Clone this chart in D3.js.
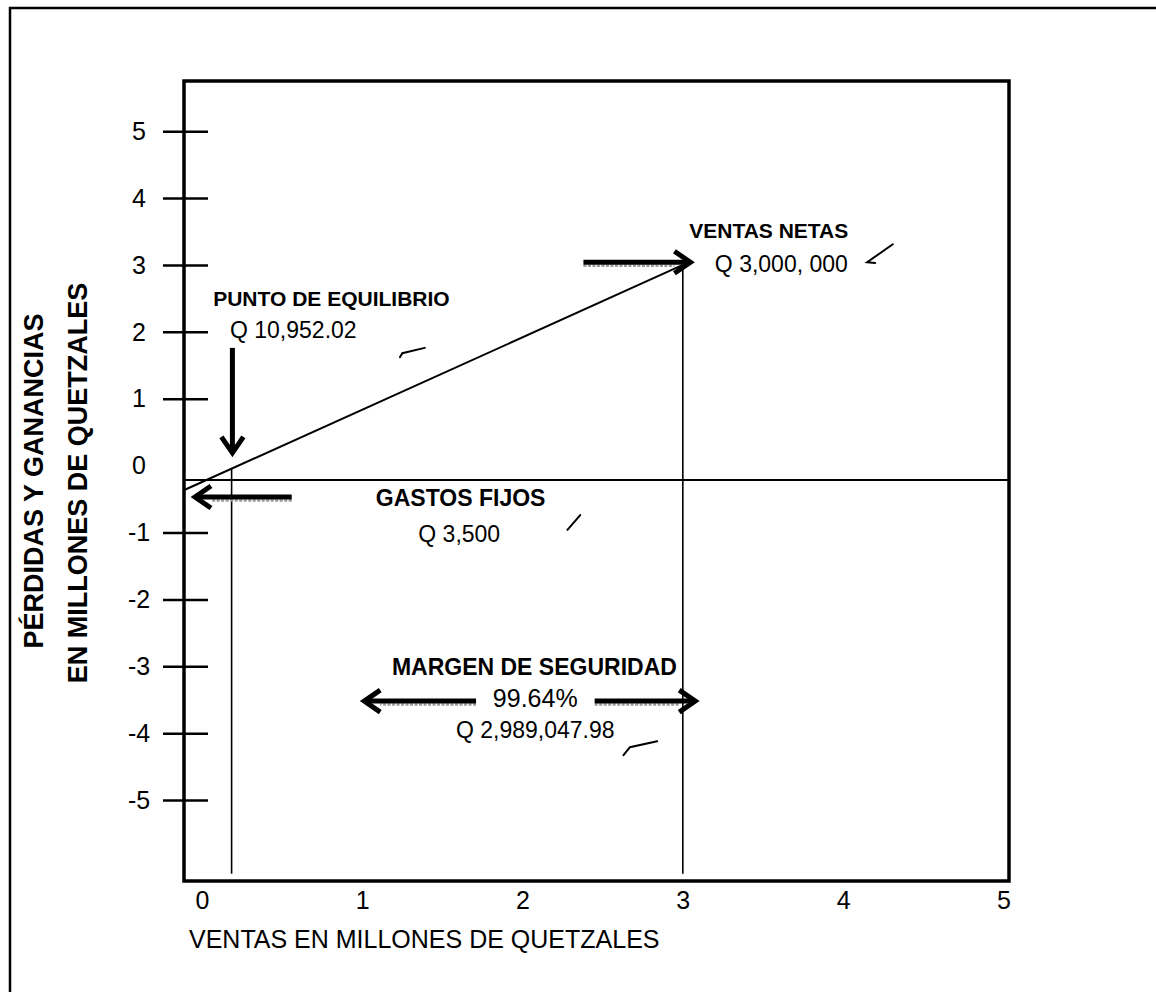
<!DOCTYPE html>
<html>
<head>
<meta charset="utf-8">
<script src="https://cdn.jsdelivr.net/npm/d3@7"></script>
<style>
	body { margin: 0; background: #fff; }
	text { font-family: "Liberation Sans", Arial, sans-serif; fill: #000; }
</style>
</head>
<body>
<script>

// valores del grafico (millones de quetzales)
var ventasTicks = [0, 1, 2, 3, 4, 5];
var gananciasTicks = [5, 4, 3, 2, 1, 0, -1, -2, -3, -4, -5];

var lineaVentas = [[-0.11, -0.365], [3, 3]];
var nivelCero = -0.215;
var equilibrioX = 0.185;
var ventasNetasX = 3;
var baseVerticales = -6.1;

// flechas: desde -> hasta
var flechas = [
	{ de: [0.19, 1.76], a: [0.19, 0.16] },
	{ de: [0.56, -0.47], a: [-0.056, -0.47] },
	{ de: [2.38, 3.04], a: [3.06, 3.04] },
	{ de: [1.71, -3.52], a: [1.0, -3.52] },
	{ de: [2.45, -3.52], a: [3.09, -3.52] }
];

var textos = [
	{ t: "PUNTO DE EQUILIBRIO", x: 0.07, y: 2.39, bold: true, size: 21 },
	{ t: "Q 10,952.02", x: 0.175, y: 1.91, bold: false, size: 23 },
	{ t: "VENTAS NETAS", x: 3.04, y: 3.40, bold: true, size: 21 },
	{ t: "Q 3,000, 000", x: 3.20, y: 2.89, bold: false, size: 23 },
	{ t: "GASTOS FIJOS", x: 1.085, y: -0.60, bold: true, size: 23 },
	{ t: "Q 3,500", x: 1.35, y: -1.14, bold: false, size: 23 },
	{ t: "MARGEN DE SEGURIDAD", x: 1.185, y: -3.13, bold: true, size: 23 },
	{ t: "99.64%", x: 1.815, y: -3.61, bold: false, size: 25 },
	{ t: "Q 2,989,047.98", x: 1.585, y: -4.07, bold: false, size: 23 }
];

// marcas hechas a mano sobre el papel
var marcas = [
	[[4.31, 3.31], [4.15, 3.04], [4.20, 3.03]],
	[[1.39, 1.76], [1.25, 1.68], [1.235, 1.62]],
	[[2.36, -0.74], [2.28, -0.96]],
	[[2.84, -4.12], [2.67, -4.21], [2.63, -4.33]]
];

var margin = { left: 184, top: 81 };
var w = 825, h = 800;

var svg = d3.select("body").append("svg")
	.attr("width", 1156)
	.attr("height", 992);

// marco exterior de la hoja
svg.append("path")
	.attr("d", "M10,992 L10,8 L1156,8")
	.attr("fill", "none")
	.attr("stroke", "#000")
	.attr("stroke-width", 2.5);

var g = svg.append("g")
	.attr("transform", "translate(" + margin.left + "," + margin.top + ")");

var x = d3.scaleLinear().domain([-0.112, 5.035]).range([0, w]);
var y = d3.scaleLinear().domain([-6.21, 5.75]).range([h, 0]);

// linea horizontal (cero)
g.append("line")
	.attr("x1", 0).attr("x2", w)
	.attr("y1", y(nivelCero)).attr("y2", y(nivelCero))
	.attr("stroke", "#000").attr("stroke-width", 2);

// linea de ventas
var line = d3.line().x(function(d){ return x(d[0]); }).y(function(d){ return y(d[1]); });
g.append("path")
	.attr("d", line(lineaVentas))
	.attr("fill", "none")
	.attr("stroke", "#000")
	.attr("stroke-width", 2);

// verticales: punto de equilibrio y ventas netas
var t = (equilibrioX - lineaVentas[0][0]) / (lineaVentas[1][0] - lineaVentas[0][0]);
var yEquilibrio = d3.interpolateNumber(lineaVentas[0][1], lineaVentas[1][1])(t);

g.append("line")
	.attr("x1", x(equilibrioX)).attr("x2", x(equilibrioX))
	.attr("y1", y(yEquilibrio)).attr("y2", y(baseVerticales))
	.attr("stroke", "#000").attr("stroke-width", 1.6);

g.append("line")
	.attr("x1", x(ventasNetasX)).attr("x2", x(ventasNetasX))
	.attr("y1", y(lineaVentas[1][1])).attr("y2", y(baseVerticales))
	.attr("stroke", "#000").attr("stroke-width", 1.6);

// caja del grafico
g.append("rect")
	.attr("width", w).attr("height", h)
	.attr("fill", "none")
	.attr("stroke", "#000")
	.attr("stroke-width", 3.5);

// eje Y
var ejeY = g.append("g")
	.call(d3.axisLeft(y).tickValues(gananciasTicks).tickSize(21).tickFormat(function(d){ return String(d); }));
ejeY.select(".domain").remove();
ejeY.selectAll(".tick line")
	.attr("x1", 24).attr("x2", -21)
	.attr("stroke", "#000")
	.attr("stroke-width", 2.5)
	.style("display", function(d){ return d === 0 ? "none" : null; });
ejeY.selectAll(".tick text")
	.attr("x", -45)
	.attr("dy", "0.33em")
	.attr("text-anchor", "middle")
	.style("font-size", "25px")
	.style("font-family", "'Liberation Sans', Arial, sans-serif");

// eje X (solo etiquetas)
var ejeX = g.append("g")
	.attr("transform", "translate(0," + h + ")")
	.call(d3.axisBottom(x).tickValues(ventasTicks).tickSize(0).tickPadding(10).tickFormat(function(d){ return String(d); }));
ejeX.select(".domain").remove();
ejeX.selectAll(".tick text")
	.style("font-size", "25px")
	.style("font-family", "'Liberation Sans', Arial, sans-serif");

// titulos de los ejes
svg.append("text")
	.attr("x", 189).attr("y", 948)
	.style("font-size", "25px")
	.text("VENTAS EN MILLONES DE QUETZALES");

svg.append("text")
	.attr("transform", "translate(43,481) rotate(-90)")
	.attr("text-anchor", "middle")
	.style("font-size", "27px")
	.style("font-weight", "bold")
	.text("PÉRDIDAS Y GANANCIAS");

svg.append("text")
	.attr("transform", "translate(87,483) rotate(-90)")
	.attr("text-anchor", "middle")
	.style("font-size", "27px")
	.style("font-weight", "bold")
	.text("EN MILLONES DE QUETZALES");

// flechas gruesas
function flecha(f){
	var x1 = x(f.de[0]), y1 = y(f.de[1]), x2 = x(f.a[0]), y2 = y(f.a[1]);
	var ang = Math.atan2(y2 - y1, x2 - x1);
	var L = 18, hw = 11;
	var bx = x2 - L * Math.cos(ang), by = y2 - L * Math.sin(ang);
	var px = -Math.sin(ang) * hw, py = Math.cos(ang) * hw;

	// sombra gris del escaneo bajo las flechas horizontales
	if (Math.abs(Math.cos(ang)) > 0.9) {
		g.append("line")
			.attr("x1", x1).attr("y1", y1 + 3.5)
			.attr("x2", bx).attr("y2", y2 + 3.5)
			.attr("stroke", "#9a9a9a")
			.attr("stroke-width", 2.5)
			.attr("stroke-dasharray", "3,1.5");
	}

	g.append("line")
		.attr("x1", x1).attr("y1", y1)
		.attr("x2", x2 - 3 * Math.cos(ang)).attr("y2", y2 - 3 * Math.sin(ang))
		.attr("stroke", "#000").attr("stroke-width", 5);

	g.append("path")
		.attr("d", "M" + (bx + px) + "," + (by + py) + "L" + (x2 - 2 * Math.cos(ang)) + "," + (y2 - 2 * Math.sin(ang)) + "L" + (bx - px) + "," + (by - py))
		.attr("fill", "none")
		.attr("stroke", "#000")
		.attr("stroke-width", 5)
		.attr("stroke-linejoin", "miter");
}
flechas.forEach(flecha);

// textos de anotacion
g.selectAll(".nota")
	.data(textos)
	.enter().append("text")
	.attr("class", "nota")
	.attr("x", function(d){ return x(d.x); })
	.attr("y", function(d){ return y(d.y); })
	.style("font-size", function(d){ return d.size + "px"; })
	.style("font-weight", function(d){ return d.bold ? "bold" : "normal"; })
	.text(function(d){ return d.t; });

// marcas a mano
g.selectAll(".marca")
	.data(marcas)
	.enter().append("path")
	.attr("class", "marca")
	.attr("d", line)
	.attr("fill", "none")
	.attr("stroke", "#000")
	.attr("stroke-width", 2)
	.attr("stroke-linecap", "round");

</script>
</body>
</html>
